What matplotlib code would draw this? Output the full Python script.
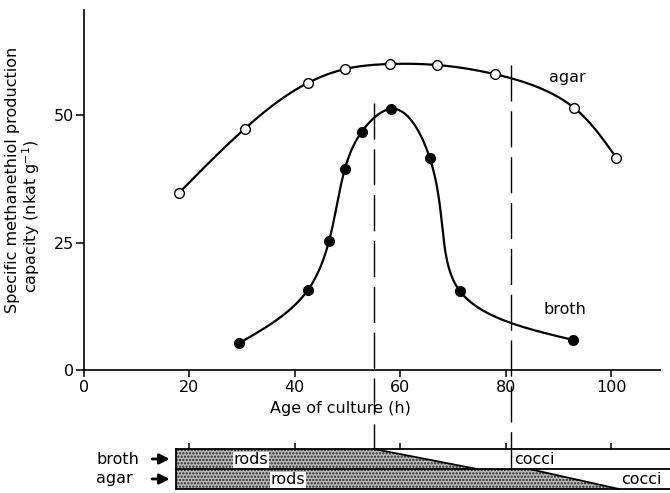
import numpy as np
import matplotlib
matplotlib.use("Agg")
import matplotlib.pyplot as plt
from matplotlib.patches import Polygon

# ---------------- data ----------------
agar_age = [18, 30.5, 42.5, 49.5, 58, 67, 78, 93, 101]
agar_rate = [34.7, 47.3, 56.3, 59.0, 60.0, 59.8, 58.0, 51.4, 41.6]
broth_age = [29.5, 42.5, 46.5, 49.5, 52.7, 58.2, 65.6, 71.3, 92.8]
broth_rate = [5.3, 15.7, 25.3, 39.4, 46.7, 51.2, 41.6, 15.5, 5.9]
x_ticks = [0, 20, 40, 60, 80, 100]
y_ticks = [0, 25, 50]
marker_ages = [55, 81]          # dashed vertical lines (h)
broth_rods_end = (55, 74.6)     # start / end of rods->cocci transition
agar_rods_end = (84.5, 101.5)
bar_start = 17.5

plt.rcParams['font.family'] = ['DejaVu Sans']
plt.rcParams['hatch.linewidth'] = 1.1
FS = 11.5

SX, SY = 5.27, 5.1  # approx pixel per unit, for smooth curve parametrisation


def nat_spline(t, y, tt):
    n = len(t)
    h = np.diff(t)
    A = np.zeros((n, n))
    r = np.zeros(n)
    A[0, 0] = 1
    A[-1, -1] = 1
    for i in range(1, n - 1):
        A[i, i - 1] = h[i - 1]
        A[i, i] = 2 * (h[i - 1] + h[i])
        A[i, i + 1] = h[i]
        r[i] = 6 * ((y[i + 1] - y[i]) / h[i] - (y[i] - y[i - 1]) / h[i - 1])
    M = np.linalg.solve(A, r)
    idx = np.clip(np.searchsorted(t, tt) - 1, 0, n - 2)
    t0, t1 = t[idx], t[idx + 1]
    hh = t1 - t0
    a = (t1 - tt) / hh
    b = (tt - t0) / hh
    return (a * y[idx] + b * y[idx + 1]
            + ((a ** 3 - a) * M[idx] + (b ** 3 - b) * M[idx + 1]) * hh ** 2 / 6)


def smooth(xs, ys, n=600):
    px = np.asarray(xs, float) * SX
    py = np.asarray(ys, float) * SY
    d = np.hypot(np.diff(px), np.diff(py))
    t = np.concatenate([[0], np.cumsum(d)])
    tt = np.linspace(0, t[-1], n)
    return nat_spline(t, px, tt) / SX, nat_spline(t, py, tt) / SY


W, H = 670, 493
fig = plt.figure(figsize=(6.7, 4.93), dpi=100)
ax = fig.add_axes([84 / W, 1 - 370 / H, 576 / W, 360 / H])
ax.set_xlim(0, 576 / 5.27)
ax.set_ylim(0, 360 / 5.1)
for s in ['top', 'right']:
    ax.spines[s].set_visible(False)
for s in ['left', 'bottom']:
    ax.spines[s].set_linewidth(1.2)
ax.set_xticks(x_ticks)
ax.set_yticks(y_ticks)
ax.tick_params(axis='x', direction='out', length=5, width=1.1, pad=2, labelsize=FS)
ax.tick_params(axis='y', direction='out', length=6, width=1.1, pad=1, labelsize=FS)

# curves
cx, cy = smooth(agar_age, agar_rate)
ax.plot(cx, cy, color='black', lw=1.6, zorder=2)
ax.plot(agar_age, agar_rate, 'o', ms=7, mfc='white', mec='black', mew=1.0, zorder=3)
cx, cy = smooth(broth_age, broth_rate)
ax.plot(cx, cy, color='black', lw=1.6, zorder=2)
ax.plot(broth_age, broth_rate, 'o', ms=7, mfc='black', mec='black', zorder=3)

ax.text(91.8, 57.3, 'agar', fontsize=FS, ha='center', va='center')
ax.text(91.3, 11.8, 'broth', fontsize=FS, ha='center', va='center')

# dashed lines
ax.plot([marker_ages[0]] * 2, [52.4, -15.5], color='black', lw=1.0,
        dashes=(26, 7), clip_on=False, zorder=1)
ax.plot([marker_ages[1]] * 2, [59.8, -15.5], color='black', lw=1.0,
        dashes=(26, 7), clip_on=False, zorder=1)

ax.text(48.6, -7.6, 'Age of culture (h)', fontsize=FS, ha='center', va='center')
fig.text(13 / W, 1 - 180 / H, 'Specific methanethiol production', rotation=90,
         fontsize=FS, ha='center', va='center')
fig.text(31 / W, 1 - 216 / H, 'capacity (nkat g$^{-1}$)', rotation=90,
         fontsize=FS, ha='center', va='center')

# ---------------- morphology bar ----------------
bx = fig.add_axes([84 / W, 1 - 489 / H, 586 / W, 40 / H])
bx.set_xlim(0, 586 / 5.27)
bx.set_ylim(0, 2)
for s in bx.spines.values():
    s.set_visible(False)
bx.set_yticks([])
bx.set_xticks(x_ticks[1:])
bx.tick_params(axis='x', top=True, bottom=False, labelbottom=False, labeltop=False,
               direction='out', length=4, width=1.1)
xe = 586 / 5.27
bx.add_patch(Polygon([(bar_start, 2), (broth_rods_end[0], 2), (broth_rods_end[1], 1), (bar_start, 1)],
                     closed=True, facecolor='#bcbcbc', edgecolor='#222222', hatch='.....', lw=0))
bx.add_patch(Polygon([(bar_start, 1), (agar_rods_end[0], 1), (agar_rods_end[1], 0), (bar_start, 0)],
                     closed=True, facecolor='#bcbcbc', edgecolor='#222222', hatch='.....', lw=0))
kw = dict(color='black', lw=1.3, clip_on=False)
bx.plot([bar_start, xe], [2, 2], **kw)
bx.plot([bar_start, xe], [1, 1], **kw)
bx.plot([bar_start, xe], [0, 0], **kw)
bx.plot([bar_start, bar_start], [0, 2], **kw)
bx.plot([broth_rods_end[0], broth_rods_end[1]], [2, 1], **kw)
bx.plot([agar_rods_end[0], agar_rods_end[1]], [1, 0], **kw)
bx.plot([marker_ages[1]] * 2, [2, 1], color='black', lw=1.0)

tb = dict(facecolor='white', edgecolor='none', pad=0.2)
bx.text(31.7, 1.45, 'rods', fontsize=FS, ha='center', va='center', bbox=tb)
bx.text(38.7, 0.45, 'rods', fontsize=FS, ha='center', va='center', bbox=tb)
bx.text(81.6, 1.45, 'cocci', fontsize=FS, ha='left', va='center', bbox=tb)
bx.text(105.7, 0.45, 'cocci', fontsize=FS, ha='center', va='center', bbox=tb)

bx.text(2.3, 1.5, 'broth', fontsize=FS, ha='left', va='center')
bx.text(2.3, 0.5, 'agar', fontsize=FS, ha='left', va='center')
for yy in (1.5, 0.5):
    bx.annotate('', xy=(16.8, yy), xytext=(12.4, yy),
                arrowprops=dict(arrowstyle='-|>,head_length=0.6,head_width=0.3',
                                color='black', lw=2.0), annotation_clip=False)

fig.savefig('out.png', dpi=100)
